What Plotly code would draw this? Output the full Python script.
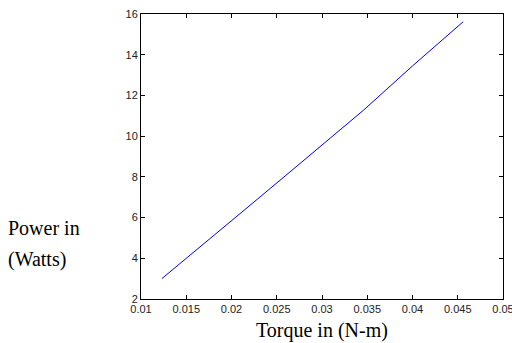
import plotly.graph_objects as go

torque = [0.0123, 0.0170, 0.0215, 0.0260, 0.0305, 0.0346, 0.0400, 0.0456]
power = [3.00, 4.72, 6.40, 8.07, 9.75, 11.28, 13.45, 15.62]

x_ticks = [0.01, 0.015, 0.02, 0.025, 0.03, 0.035, 0.04, 0.045, 0.05]
x_tick_labels = ["0.01", "0.015", "0.02", "0.025", "0.03", "0.035", "0.04", "0.045", "0.05"]
y_ticks = [2, 4, 6, 8, 10, 12, 14, 16]
y_tick_labels = ["2", "4", "6", "8", "10", "12", "14", "16"]

fig = go.Figure()
fig.add_trace(go.Scatter(x=torque, y=power, mode="lines",
                         line=dict(color="#0000ff", width=1), showlegend=False))

tick_font = dict(family="Liberation Sans, Arial, sans-serif", size=11, color="#222222")
axis_common = dict(showgrid=False, zeroline=False, showline=True, linecolor="black",
                   linewidth=1, mirror="allticks", ticks="inside", ticklen=4,
                   tickcolor="black", tickwidth=1, tickfont=tick_font, automargin=False,
                   ticklabeloverflow="allow")

fig.update_layout(
    width=512, height=343,
    margin=dict(l=141, r=9, t=14, b=44),
    paper_bgcolor="white", plot_bgcolor="white",
    xaxis=dict(range=[0.01, 0.05], tickvals=x_ticks, ticktext=x_tick_labels, **axis_common),
    yaxis=dict(range=[2, 16], tickvals=y_ticks, ticktext=y_tick_labels, **axis_common),
)

serif = dict(family="Liberation Serif, Times New Roman, serif", size=20, color="black")
fig.add_annotation(text="Torque in (N-m)", xref="paper", yref="paper", x=0.5, y=0,
                   yshift=-31, xanchor="center", yanchor="middle", showarrow=False, font=serif)
fig.add_annotation(text="Power in", xref="paper", yref="paper", x=0, y=0,
                   xshift=-135, yshift=71, xanchor="left", yanchor="middle", showarrow=False, font=serif)
fig.add_annotation(text="(Watts)", xref="paper", yref="paper", x=0, y=0,
                   xshift=-135, yshift=40, xanchor="left", yanchor="middle", showarrow=False, font=serif)

fig.write_html("out.html", config={"displayModeBar": False},
               post_script="document.body.style.margin='0px';")
